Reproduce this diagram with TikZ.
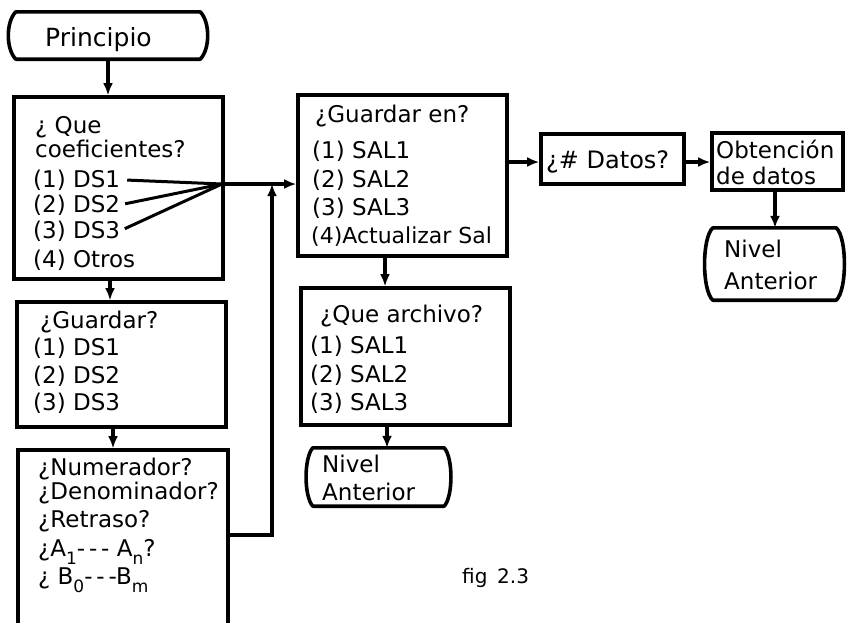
\documentclass[tikz,border=0pt]{standalone}
\usepackage{fontspec}
\setmainfont{DejaVu Sans}
\usetikzlibrary{arrows.meta,fit,calc}
\newcommand\subx[1]{\raisebox{-0.35em}{\fontsize{17}{17}\selectfont #1}}
\newcommand\termpath[2]{%
  \draw[termline] (#1.north west) -- (#1.north east)
    .. controls +(#2,10) and +(#2,-10) .. (#1.south east)
    -- (#1.south west)
    .. controls +(-#2,-10) and +(-#2,10) .. (#1.north west) -- cycle;}
\begin{document}
\begin{tikzpicture}[x=1pt,y=-1pt,
  flbox/.style={draw, line width=3.6pt, inner sep=0pt},
  txt/.style={anchor=base west, inner sep=0pt, font=\fontsize{23}{23}\selectfont},
  arr/.style={line width=3.2pt, -{Latex[length=12pt,width=10pt]}},
  link/.style={line width=3pt},
  termline/.style={line width=3.6pt, line join=round}]
\useasboundingbox (0,0) rectangle (847,622);
\clip (0,0) rectangle (847,622);
\fill[white] (0,0) rectangle (847,622);

% Principio
\node[inner sep=0pt, fit={(16,12) (200,59)}] (start) {};
\termpath{start}{10}
\node[txt, font=\fontsize{25}{25}\selectfont] (ptxt) at (45,46) {Principio};

% box 1
\node[flbox, fit={(14,97) (223,279)}] (q1) {};
\node[txt] (q1a) at (35,133) {¿ Que};
\node[txt] (q1b) at (35,157) {coeficientes?};
\node[txt] (ds1) at (33,187) {(1) DS1};
\node[txt] (ds2) at (33,212) {(2) DS2};
\node[txt] (ds3) at (33,238) {(3) DS3};
\node[txt] (ds4) at (33,267) {(4) Otros};

% box 3
\node[flbox, fit={(17,302) (226,427)}] (q3) {};
\node[txt] (q3a) at (40,328) {¿Guardar?};
\node[txt] (q3b) at (33,355) {(1) DS1};
\node[txt] (q3c) at (33,383) {(2) DS2};
\node[txt] (q3d) at (33,410) {(3) DS3};

% box 4
\node[flbox, fit={(18,450) (228,650)}] (q4) {};
\node[txt] (q4a) at (38,475) {¿Numerador?};
\node[txt] (q4b) at (38,499) {¿Denominador?};
\node[txt] (q4c) at (38,527) {¿Retraso?};
\node[txt] (q4d) at (38,556) {¿A\subx{1}-\,-\,- A\subx{n}?};
\node[txt] (q4e) at (38,584) {¿ B\subx{0}-\,-\,-B\subx{m}};

% box 2
\node[flbox, fit={(298,95) (507,256)}] (q2) {};
\node[txt] (q2a) at (315,122) {¿Guardar en?};
\node[txt] (q2b) at (312,158) {(1) SAL1};
\node[txt] (q2c) at (312,187) {(2) SAL2};
\node[txt] (q2d) at (312,215) {(3) SAL3};
\node[txt, font=\fontsize{22}{22}\selectfont] (q2e) at (311,243) {(4)Actualizar Sal};

% box 5
\node[flbox, fit={(301,288) (510,425)}] (q5) {};
\node[txt] (q5a) at (320,322) {¿Que archivo?};
\node[txt] (q5b) at (310,353) {(1) SAL1};
\node[txt] (q5c) at (310,382) {(2) SAL2};
\node[txt] (q5d) at (310,410) {(3) SAL3};

% Nivel anterior (middle)
\node[inner sep=0pt, fit={(313,448) (444,506)}] (niv2) {};
\termpath{niv2}{9}
\node[txt] (niv2a) at (322,472) {Nivel};
\node[txt] (niv2b) at (322,500) {Anterior};

% Datos
\node[flbox, fit={(541,134) (684,184)}] (datos) {};
\node[txt, font=\fontsize{24}{24}\selectfont] (datosa) at (546,168) {¿\# Datos?};

% Obtencion
\node[flbox, fit={(712,133) (843,190)}] (obt) {};
\node[txt] (obta) at (716,158) {Obtención};
\node[txt] (obtb) at (716,184) {de datos};

% Nivel anterior (right)
\node[inner sep=0pt, fit={(713,228) (836,300)}] (niv1) {};
\termpath{niv1}{11}
\node[txt] (niv1a) at (724,257) {Nivel};
\node[txt] (niv1b) at (724,289) {Anterior};

% caption
\node[txt, font=\fontsize{20}{20}\selectfont] (cap) at (462,583) {fig\, 2.3};

% connectors
\coordinate (conv) at (222,184);
\coordinate (jn) at (272,184);
\coordinate (ret) at (272,535);

\draw[arr] (start.south -| 108,0) -- (q1.north -| 108,0);
\draw[link, shorten <=7pt] (ds1.east) -- (conv);
\draw[link, shorten <=5pt] (ds2.east) -- (conv);
\draw[link, shorten <=5pt] (ds3.east) -- (conv);
\draw[arr] (conv) -- (q2.west |- conv);
\draw[arr] (q4.east |- ret) -- (ret) -- (jn);
\draw[arr] (q1.south -| 110,0) -- (q3.north -| 110,0);
\draw[arr] (q3.south -| 113,0) -- (q4.north -| 113,0);
\draw[arr] (q2.south -| 385,0) -- (q5.north -| 385,0);
\draw[arr] (q5.south -| 387,0) -- (niv2.north -| 387,0);
\draw[arr] (q2.east |- 0,162) -- (datos.west |- 0,162);
\draw[arr] (datos.east |- 0,162) -- (obt.west |- 0,162);
\draw[arr] (obt.south -| 775,0) -- (niv1.north -| 775,0);
\end{tikzpicture}
\end{document}
